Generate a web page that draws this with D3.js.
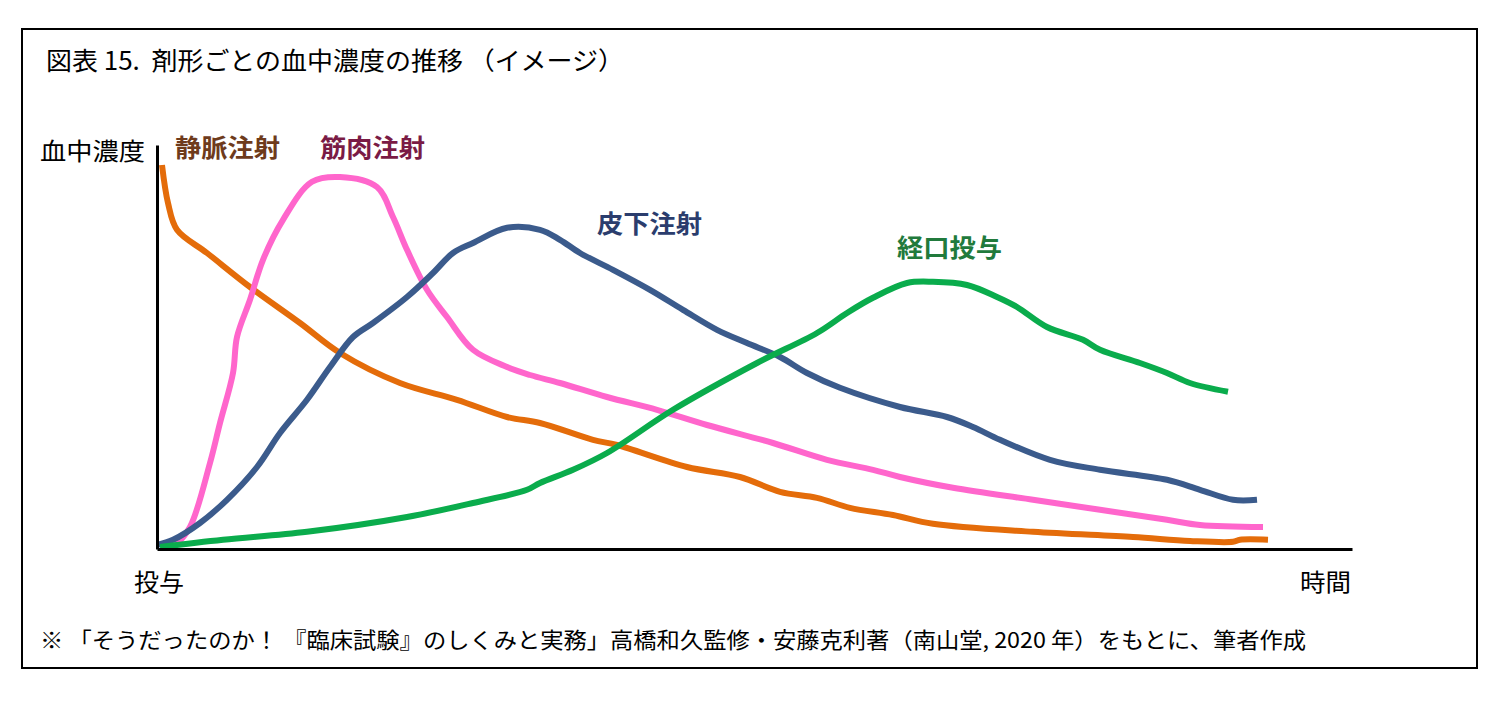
<!DOCTYPE html>
<html>
<head>
<meta charset="utf-8">
<script src="https://cdn.jsdelivr.net/npm/d3@7"></script>
<style>
  body { margin: 0; background: #fff; }
  svg { display: block; font-family: "Noto Sans CJK JP", "Noto Sans", sans-serif; }
  text { white-space: pre; }
</style>
</head>
<body>
<div id="chart"></div>
<script>
// time (arbitrary units) and concentration (arbitrary units)
var ivTime  = [0.5, 1.1, 2.0, 5.0, 9.3, 14.3, 18.3, 24.3, 30.0, 35.0, 38.3, 43.6, 46.0, 53.0, 58.3, 62.3, 66.0, 69.3, 73.6, 77.6, 87.6, 97.6, 103.3, 107.6, 108.3, 111.1];
var ivConc  = [96, 86.5, 79.8, 74, 65.5, 56.5, 49, 41.5, 37.3, 33, 31.5, 27.3, 26, 20.5, 18, 14.3, 12.8, 10.3, 8.5, 6.3, 4.3, 3, 2, 1.8, 2.3, 2.3];

var imTime  = [1.8, 3.3, 5.3, 6.3, 7.6, 8.0, 9.3, 10.6, 12.6, 15.5, 18.3, 22.0, 23.6, 25.0, 27.0, 29.0, 31.6, 35.0, 37.3, 40.3, 45.0, 50.0, 55.0, 61.6, 67.0, 71.6, 74.3, 79.6, 87.6, 94.3, 101.0, 104.3, 110.6];
var imConc  = [0.8, 5.5, 21.5, 31.5, 44, 53, 62.3, 72.3, 82.3, 91.8, 93, 90.5, 83, 74.8, 64.8, 58, 49.8, 45.5, 43.5, 41.5, 38, 34.8, 31, 26.5, 22.3, 19.8, 18, 15.3, 12.3, 9.8, 7.3, 6, 5.5];

var scTime  = [0, 1.6, 4.3, 7.0, 10.0, 12.3, 15.0, 17.3, 19.6, 21.6, 25.0, 27.6, 29.6, 31.6, 35.0, 38.3, 40.3, 42.3, 45.6, 49.3, 52.6, 56.0, 59.0, 62.3, 65.0, 68.3, 74.3, 79.0, 81.6, 84.3, 89.3, 94.3, 101.0, 104.3, 107.6, 110.0];
var scConc  = [1, 2.3, 6.5, 12.3, 20.5, 29, 37.3, 45.5, 53, 56.5, 63, 69, 74, 76.5, 80.3, 79.8, 77.3, 74, 69.8, 64.8, 59.8, 54.8, 51.5, 48, 44, 40.3, 35.5, 33, 30.5, 27.3, 22.3, 19.8, 17.3, 14.8, 12.3, 12.3];

var poTime  = [0.3, 6.6, 15.0, 25.0, 31.6, 37.0, 38.3, 41.6, 45.0, 51.6, 60.0, 66.0, 69.0, 71.6, 75.0, 77.6, 81.0, 84.0, 86.0, 89.0, 92.6, 94.3, 98.3, 101.0, 103.3, 107.1];
var poConc  = [0.5, 2.3, 4.3, 8, 11.5, 14.8, 16.5, 19.8, 24, 34.8, 46.5, 54, 59, 62.8, 66.5, 66.8, 66, 63, 60.5, 55.5, 52.3, 49.8, 46.5, 44, 41.5, 39.3];

var seriesNames = ["静脈注射", "筋肉注射", "皮下注射", "経口投与"];
var lineColors  = ["#e46c0a", "#ff66cc", "#3b5b8c", "#0aac4c"];
var labelColors = ["#6e3b1c", "#7a1b45", "#2b3d6d", "#217a3c"];
// where each label sits, in data units
var labelTime = [1.8, 16.3, 44.0, 74.0];
var labelConc = [98, 98, 79, 73];

var title = "図表 15.\u00a0\u00a0剤形ごとの血中濃度の推移 （イメージ）";
var yTitle = "血中濃度";
var xStart = "投与", xEnd = "時間";
var note = "※ 「そうだったのか！ 『臨床試験』のしくみと実務」高橋和久監修・安藤克利著（南山堂, 2020 年）をもとに、筆者作成";

var W = 1501, H = 703;
var margin = {top: 145, right: 149, bottom: 154, left: 157};
var width = W - margin.left - margin.right,
    height = H - margin.top - margin.bottom;

var svg = d3.select("#chart").append("svg")
    .attr("width", W)
    .attr("height", H);

// outer frame
svg.append("rect")
    .attr("x", 22).attr("y", 29)
    .attr("width", 1455).attr("height", 639)
    .attr("fill", "none")
    .attr("stroke", "#000")
    .attr("stroke-width", 2);

svg.append("text")
    .attr("x", 46).attr("y", 70)
    .attr("font-size", 25)
    .attr("textLength", 578)
    .attr("lengthAdjust", "spacingAndGlyphs")
    .text(title);

var g = svg.append("g")
    .attr("transform", "translate(" + margin.left + "," + margin.top + ")");

var x = d3.scaleLinear().domain([0, 119.5]).range([0, width]);
var y = d3.scaleLinear().domain([0, 101]).range([height, 0]);

var series = [
    {t: ivTime, c: ivConc},
    {t: imTime, c: imConc},
    {t: scTime, c: scConc},
    {t: poTime, c: poConc}
].map(function (s, i) {
    return {
        name: seriesNames[i],
        points: s.t.map(function (d, j) { return [d, s.c[j]]; })
    };
});

var line = d3.line()
    .x(function (d) { return x(d[0]); })
    .y(function (d) { return y(d[1]); })
    .curve(d3.curveCatmullRom.alpha(0.5));

g.selectAll(".curve")
    .data(series)
    .enter()
    .append("path")
    .attr("class", "curve")
    .attr("d", function (d) { return line(d.points); })
    .attr("fill", "none")
    .attr("stroke", function (d, i) { return lineColors[i]; })
    .attr("stroke-width", 6)
    .attr("stroke-linejoin", "round");

// axes with no ticks, just the lines
var xAxis = d3.axisBottom(x).tickValues([]).tickSizeOuter(0);
var yAxis = d3.axisLeft(y).tickValues([]).tickSizeOuter(0);

g.append("g")
    .attr("transform", "translate(0," + height + ")")
    .call(xAxis)
    .select(".domain")
    .attr("stroke", "#000")
    .attr("stroke-width", 3);

g.append("g")
    .call(yAxis)
    .select(".domain")
    .attr("stroke", "#000")
    .attr("stroke-width", 3);

// series labels
g.selectAll(".label")
    .data(seriesNames)
    .enter()
    .append("text")
    .attr("class", "label")
    .attr("x", function (d, i) { return x(labelTime[i]); })
    .attr("y", function (d, i) { return y(labelConc[i]); })
    .attr("font-size", 25)
    .attr("font-weight", "bold")
    .attr("fill", function (d, i) { return labelColors[i]; })
    .attr("textLength", 105)
    .attr("lengthAdjust", "spacingAndGlyphs")
    .text(function (d) { return d; });

svg.append("text")
    .attr("x", 40).attr("y", 160)
    .attr("font-size", 24)
    .attr("textLength", 105)
    .attr("lengthAdjust", "spacingAndGlyphs")
    .text(yTitle);

svg.append("text")
    .attr("x", 134).attr("y", 591)
    .attr("font-size", 24)
    .attr("textLength", 50)
    .attr("lengthAdjust", "spacingAndGlyphs")
    .text(xStart);

svg.append("text")
    .attr("x", 1300).attr("y", 591)
    .attr("font-size", 24)
    .attr("textLength", 51)
    .attr("lengthAdjust", "spacingAndGlyphs")
    .text(xEnd);

svg.append("text")
    .attr("x", 40).attr("y", 648)
    .attr("font-size", 22)
    .attr("textLength", 1266)
    .attr("lengthAdjust", "spacingAndGlyphs")
    .text(note);
</script>
</body>
</html>
